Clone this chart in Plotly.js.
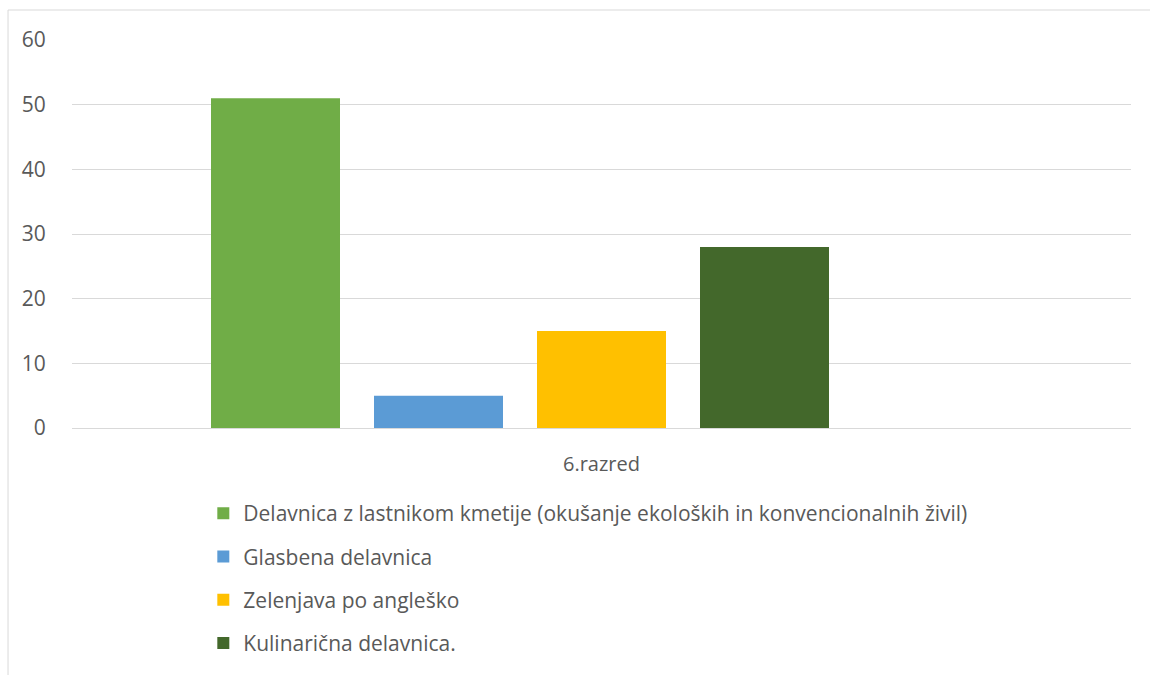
<!DOCTYPE html>
<html>
<head>
<meta charset="utf-8">
<script src="https://cdn.plot.ly/plotly-3.0.1.min.js"></script>
<style>html,body{margin:0;padding:0;background:#fff;}#chart{width:1150px;height:675px;}</style>
</head>
<body>
<div id="chart"></div>
<script>
const categories = ["6.razred"];
const seriesNames = [
  "Delavnica z lastnikom kmetije (okušanje ekoloških in konvencionalnih živil)",
  "Glasbena delavnica",
  "Zelenjava po angleško",
  "Kulinarična delavnica.",
  ""
];
const seriesValues = [[51], [5], [15], [28], [null]];
const seriesColors = ["#70ad47", "#5b9bd5", "#ffc000", "#43682b", "#ffffff"];
const yTicks = [0, 10, 20, 30, 40, 50, 60];

const txtColor = "#595959";
const fontFam = "'Open Sans', 'Noto Sans', sans-serif";

const traces = seriesNames.map((name, i) => ({
  type: "bar",
  x: categories,
  y: seriesValues[i],
  name: name,
  marker: {color: seriesColors[i]},
  showlegend: name !== "",
  legendgroup: "g" + i,
  hoverinfo: "y+name"
}));

const layout = {
  width: 1150, height: 675,
  margin: {l: 72, r: 19, t: 40, b: 247, autoexpand: false},
  paper_bgcolor: "#fff", plot_bgcolor: "#fff",
  barmode: "group",
  bargap: 0.2304,
  bargroupgap: 0.2086,
  font: {family: fontFam, color: txtColor, size: 20},
  xaxis: {
    type: "category",
    automargin: false,
    showgrid: false, zeroline: false, showline: false,
    ticks: "outside", ticklen: 18, tickcolor: "rgba(0,0,0,0)",
    tickfont: {family: fontFam, color: txtColor, size: 20}
  },
  yaxis: {
    range: [0, 60],
    automargin: false,
    tickvals: yTicks,
    ticktext: yTicks.map(String),
    showgrid: true, gridcolor: "#d9d9d9", gridwidth: 1,
    zeroline: true, zerolinecolor: "#d9d9d9", zerolinewidth: 1,
    showline: false,
    ticks: "outside", ticklen: 21, tickcolor: "rgba(0,0,0,0)",
    tickfont: {family: fontFam, color: txtColor, size: 21}
  },
  legend: {
    orientation: "v",
    x: 0.124, xanchor: "left",
    y: -0.1677, yanchor: "top",
    tracegroupgap: 13,
    font: {family: fontFam, color: txtColor, size: 21},
    bgcolor: "rgba(0,0,0,0)"
  },
  shapes: [
    {type: "line", xref: "paper", yref: "paper", x0: -0.0604, x1: 1.05, y0: 1.0773, y1: 1.0773, line: {color: "#d9d9d9", width: 1}},
    {type: "line", xref: "paper", yref: "paper", x0: -0.0604, x1: -0.0604, y0: 1.0773, y1: -0.7, line: {color: "#d9d9d9", width: 1}}
  ]
};

Plotly.newPlot("chart", traces, layout, {displayModeBar: false, staticPlot: true});
</script>
</body>
</html>
